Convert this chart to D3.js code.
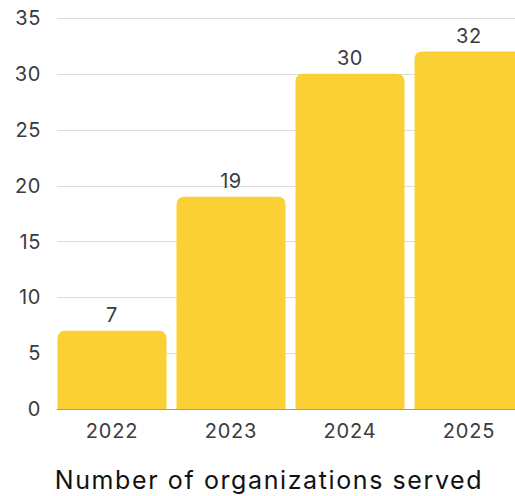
<!DOCTYPE html>
<html>
<head>
<meta charset="utf-8">
<script src="https://cdn.jsdelivr.net/npm/d3@7"></script>
<style>
  html, body { margin: 0; padding: 0; background: #fff; overflow: hidden; }
  svg { display: block; font-family: "Inter", "Noto Sans", sans-serif; }
</style>
</head>
<body>
<div id="chart"></div>
<script>
var years = ["2022", "2023", "2024", "2025"];
var organizations = [7, 19, 30, 32];
var yTicks = [0, 5, 10, 15, 20, 25, 30, 35];
var chartTitle = "Number of organizations served";

var width = 515, height = 496;
var plotLeft = 57, plotBottom = 409, plotTop = 18;

var svg = d3.select("#chart")
	.append("svg")
	.attr("width", width)
	.attr("height", height);

var x = d3.scaleBand()
	.domain(years)
	.range([52.5, 528.5])
	.paddingInner(0.084)
	.paddingOuter(0.042);

var y = d3.scaleLinear()
	.domain([0, 35])
	.range([plotBottom, plotTop]);

// gridlines
svg.append("g")
	.selectAll("line")
	.data(yTicks)
	.enter()
	.append("line")
		.attr("x1", plotLeft)
		.attr("x2", width)
		.attr("y1", function(d){ return Math.round(y(d)) + 0.5; })
		.attr("y2", function(d){ return Math.round(y(d)) + 0.5; })
		.attr("stroke", function(d){ return d === 0 ? "#9a9a9a" : "#dcdcdc"; })
		.attr("stroke-width", 1.2);

// y labels
svg.append("g")
	.selectAll("text")
	.data(yTicks)
	.enter()
	.append("text")
		.attr("x", 41)
		.attr("y", function(d){ return y(d); })
		.attr("dy", "0.36em")
		.attr("text-anchor", "end")
		.attr("fill", "#3b3b40")
		.attr("font-size", 20)
		.attr("letter-spacing", 0.6)
		.text(function(d){ return d; });

// bars with rounded top corners
function barPath(d, i){
	var x0 = x(years[i]), w = x.bandwidth();
	var top = y(d), bot = y(0), r = 8;
	return "M" + x0 + "," + bot +
		"V" + (top + r) +
		"Q" + x0 + "," + top + " " + (x0 + r) + "," + top +
		"H" + (x0 + w - r) +
		"Q" + (x0 + w) + "," + top + " " + (x0 + w) + "," + (top + r) +
		"V" + bot + "Z";
}

svg.append("g")
	.selectAll("path")
	.data(organizations)
	.enter()
	.append("path")
		.attr("class", "bar")
		.attr("d", barPath)
		.attr("fill", "#fbd035");

// value labels
svg.append("g")
	.selectAll("text")
	.data(organizations)
	.enter()
	.append("text")
		.attr("x", function(d, i){ return x(years[i]) + x.bandwidth() / 2; })
		.attr("y", function(d){ return y(d) - 9; })
		.attr("text-anchor", "middle")
		.attr("fill", "#3b3b40")
		.attr("font-size", 20)
		.attr("letter-spacing", 0.6)
		.text(function(d){ return d; });

// x labels
svg.append("g")
	.selectAll("text")
	.data(years)
	.enter()
	.append("text")
		.attr("x", function(d){ return x(d) + x.bandwidth() / 2; })
		.attr("y", 438)
		.attr("text-anchor", "middle")
		.attr("fill", "#3b3b40")
		.attr("font-size", 20)
		.attr("letter-spacing", 0.8)
		.text(function(d){ return d; });

// title
svg.append("text")
	.attr("x", 269)
	.attr("y", 489)
	.attr("text-anchor", "middle")
	.attr("fill", "#111")
	.attr("font-size", 25)
	.attr("letter-spacing", 1.6)
	.text(chartTitle);
</script>
</body>
</html>
